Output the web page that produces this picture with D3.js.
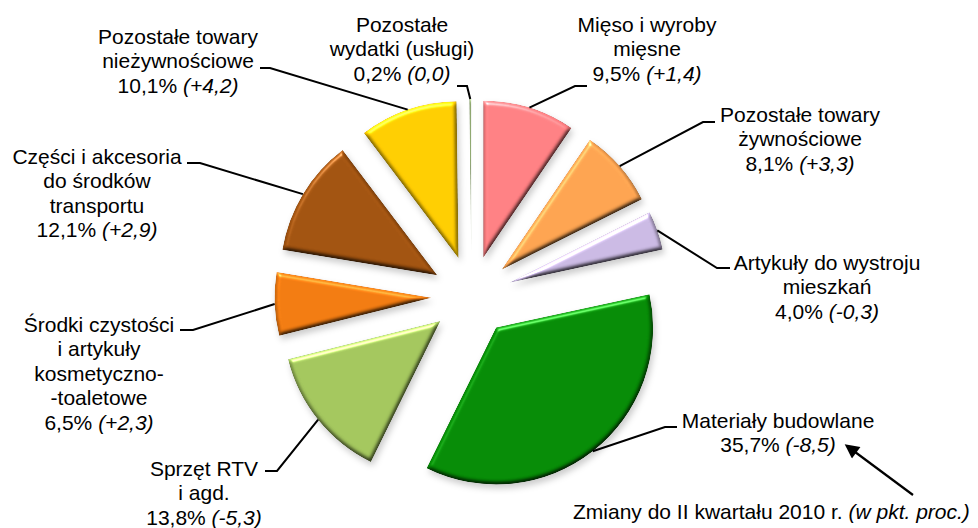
<!DOCTYPE html>
<html>
<head>
<meta charset="utf-8">
<script src="https://cdn.jsdelivr.net/npm/d3@7"></script>
<style>
  body { margin: 0; background: #fff; }
  svg { display: block; }
  text { font-family: "Liberation Sans", Arial, sans-serif; font-size: 21px; fill: #000; }
  .lead { fill: none; stroke: #000; stroke-width: 2; }
</style>
</head>
<body>
<div id="chart"></div>
<script>
// shares in %, order clockwise from 12 o'clock
var categories = ["Mięso i wyroby mięsne", "Pozostałe towary żywnościowe", "Artykuły do wystroju mieszkań",
  "Materiały budowlane", "Sprzęt RTV i agd.", "Środki czystości i artykuły kosmetyczno-toaletowe",
  "Części i akcesoria do środków transportu", "Pozostałe towary nieżywnościowe", "Pozostałe wydatki (usługi)"];
var shares = [9.5, 8.1, 4.0, 35.7, 13.8, 6.5, 12.1, 10.1, 0.2];
var changes = ["+1,4", "+3,3", "-0,3", "-8,5", "-5,3", "+2,3", "+2,9", "+4,2", "0,0"];
// how each category name is broken into lines
var labelLines = [
  ["Mięso i wyroby", "mięsne"],
  ["Pozostałe towary", "żywnościowe"],
  ["Artykuły do wystroju", "mieszkań"],
  ["Materiały budowlane"],
  ["Sprzęt RTV", "i agd."],
  ["Środki czystości", "i artykuły", "kosmetyczno-", "-toaletowe"],
  ["Części i akcesoria", "do środków", "transportu"],
  ["Pozostałe towary", "nieżywnościowe"],
  ["Pozostałe", "wydatki (usługi)"]
];
var note = "Zmiany do II kwartału 2010 r. ";
var noteItalic = "(w pkt. proc.)";

var colors = ["#ff7f82", "#fba24f", "#c9b8e2", "#058a05", "#a2c55c", "#f07a10", "#a0520f", "#ffcc00", "#8fa870"];

// label placement: text centre, first baseline, leader elbow and tail
var labelPos = [
  {cx: 647, y: 32, ex: 575, ey: 86, tx: 587},
  {cx: 800, y: 122, ex: 703, ey: 122, tx: 715},
  {cx: 827, y: 270, ex: 717, ey: 268, tx: 730},
  {cx: 778, y: 428, ex: 665, ey: 427, tx: 677},
  {cx: 204, y: 476, ex: 277, ey: 471, tx: 265},
  {cx: 99, y: 332, ex: 193, ey: 330, tx: 180},
  {cx: 97, y: 164, ex: 200, ey: 163, tx: 187},
  {cx: 178, y: 44, ex: 270, ey: 68, tx: 260},
  {cx: 402, y: 32, ex: 467, ey: 86, tx: 457}
];

var width = 978, height = 528;
var cx = 471.5, cy = 296, radius = 157, explode = 40, lineH = 24.4;

var svg = d3.select("#chart").append("svg")
    .attr("width", width)
    .attr("height", height);

var defs = svg.append("defs");

// bevel + soft shadow, like the office "soft edge" pie
var f = defs.append("filter").attr("id", "bevel")
    .attr("color-interpolation-filters", "sRGB")
    .attr("x", "-20%").attr("y", "-20%").attr("width", "140%").attr("height", "140%");
f.append("feGaussianBlur").attr("in", "SourceAlpha").attr("stdDeviation", 2).attr("result", "blur");
f.append("feDiffuseLighting").attr("in", "blur").attr("surfaceScale", 3).attr("diffuseConstant", 1)
    .attr("lighting-color", "#fff").attr("result", "diff")
  .append("feDistantLight").attr("azimuth", 250).attr("elevation", 60);
f.append("feComposite").attr("in", "SourceGraphic").attr("in2", "diff").attr("operator", "arithmetic")
    .attr("k1", 1.155).attr("k2", 0).attr("k3", 0).attr("k4", 0).attr("result", "shaded");
f.append("feSpecularLighting").attr("in", "blur").attr("surfaceScale", 3).attr("specularConstant", 0.7)
    .attr("specularExponent", 30).attr("lighting-color", "#fff").attr("result", "spec")
  .append("feDistantLight").attr("azimuth", 250).attr("elevation", 35);
f.append("feComposite").attr("in", "spec").attr("in2", "SourceAlpha").attr("operator", "in").attr("result", "specIn");
f.append("feComposite").attr("in", "shaded").attr("in2", "specIn").attr("operator", "arithmetic")
    .attr("k1", 0).attr("k2", 1).attr("k3", 0.6).attr("k4", 0).attr("result", "lit");
f.append("feComposite").attr("in", "lit").attr("in2", "SourceAlpha").attr("operator", "in").attr("result", "litIn");
f.append("feOffset").attr("in", "SourceAlpha").attr("dx", 2).attr("dy", 4).attr("result", "off");
f.append("feGaussianBlur").attr("in", "off").attr("stdDeviation", 3).attr("result", "offBlur");
f.append("feFlood").attr("flood-color", "#000").attr("flood-opacity", 0.2);
f.append("feComposite").attr("in2", "offBlur").attr("operator", "in").attr("result", "shadow");
var m = f.append("feMerge");
m.append("feMergeNode").attr("in", "shadow");
m.append("feMergeNode").attr("in", "litIn");

defs.append("marker").attr("id", "arrow")
    .attr("viewBox", "0 0 10 10").attr("refX", 8).attr("refY", 5)
    .attr("markerWidth", 8).attr("markerHeight", 6.5).attr("orient", "auto")
    .attr("markerUnits", "strokeWidth")
  .append("path").attr("d", "M0,0 L10,5 L0,10 Z").attr("fill", "#000");

var pie = d3.pie().sort(null).value(d => d);
var arcs = pie(shares);
var arc = d3.arc().innerRadius(0).outerRadius(radius);

function dir(a) { return [Math.sin(a), -Math.cos(a)]; }

var g = svg.append("g").attr("transform", `translate(${cx},${cy})`);

g.selectAll("path.slice")
  .data(arcs)
  .join("path")
    .attr("class", "slice")
    .attr("d", arc)
    .attr("fill", (d, i) => colors[i])
    .attr("filter", "url(#bevel)")
    .attr("transform", d => {
      var mid = (d.startAngle + d.endAngle) / 2, v = dir(mid);
      return `translate(${v[0] * explode},${v[1] * explode})`;
    });

// leader lines from the outer arc mid-point of each slice
svg.selectAll("path.lead")
  .data(arcs)
  .join("path")
    .attr("class", "lead")
    .attr("d", (d, i) => {
      var mid = (d.startAngle + d.endAngle) / 2, v = dir(mid);
      var px = cx + v[0] * (radius + explode), py = cy + v[1] * (radius + explode);
      var p = labelPos[i];
      return d3.line()([[px, py], [p.ex, p.ey], [p.tx, p.ey]]);
    });

// labels
var labels = svg.selectAll("text.lbl")
  .data(arcs)
  .join("text")
    .attr("class", "lbl")
    .attr("text-anchor", "middle")
    .attr("transform", (d, i) => `translate(${labelPos[i].cx},${labelPos[i].y})`);

labels.each(function(d, i) {
  var t = d3.select(this);
  labelLines[i].forEach((ln, k) => {
    t.append("tspan").attr("x", 0).attr("y", k * lineH).text(ln);
  });
  var n = labelLines[i].length;
  t.append("tspan").attr("x", 0).attr("y", n * lineH)
    .text(d3.format(".1f")(shares[i]).replace(".", ",") + "% ");
  t.append("tspan").attr("font-style", "italic").text("(" + changes[i] + ")");
});

// note at the bottom with arrow to the first change value
var nt = svg.append("text").attr("x", 573).attr("y", 519);
nt.append("tspan").text(note);
nt.append("tspan").attr("font-style", "italic").text(noteItalic);

svg.append("line")
    .attr("x1", 913).attr("y1", 495).attr("x2", 847).attr("y2", 446)
    .attr("stroke", "#000").attr("stroke-width", 2.2)
    .attr("marker-end", "url(#arrow)");
</script>
</body>
</html>
